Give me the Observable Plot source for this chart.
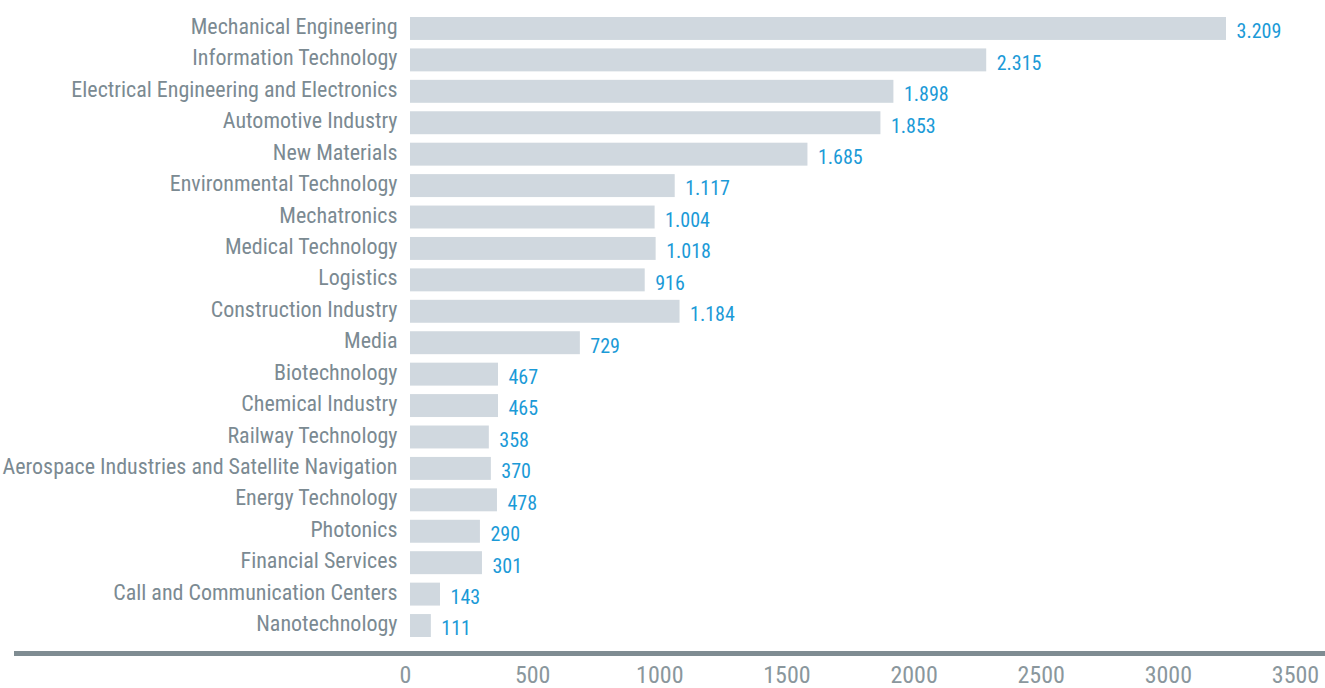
<!DOCTYPE html>
<html>
<head>
<meta charset="utf-8">
<script src="https://cdn.jsdelivr.net/npm/d3@7"></script>
<script src="https://cdn.jsdelivr.net/npm/@observablehq/plot@0.6"></script>
<style>
  html, body { margin: 0; padding: 0; background: #fff; }
  #chart { position: relative; width: 1325px; height: 688px; }
</style>
</head>
<body>
<div id="chart"></div>
<script>
// Categories, top to bottom
const categories = [
  "Mechanical Engineering",
  "Information Technology",
  "Electrical Engineering and Electronics",
  "Automotive Industry",
  "New Materials",
  "Environmental Technology",
  "Mechatronics",
  "Medical Technology",
  "Logistics",
  "Construction Industry",
  "Media",
  "Biotechnology",
  "Chemical Industry",
  "Railway Technology",
  "Aerospace Industries and Satellite Navigation",
  "Energy Technology",
  "Photonics",
  "Financial Services",
  "Call and Communication Centers",
  "Nanotechnology"
];
// Bar lengths as drawn in the picture (read against the axis)
const barValues = [3209, 2266, 1901, 1850, 1563, 1041, 962, 966, 923, 1060, 668, 346, 346, 310, 318, 342, 275, 283, 118, 82];
// Value labels printed next to the bars
const valueLabels = ["3.209", "2.315", "1.898", "1.853", "1.685", "1.117", "1.004", "1.018", "916", "1.184", "729", "467", "465", "358", "370", "478", "290", "301", "143", "111"];
// Axis ticks
const xTicks = [0, 500, 1000, 1500, 2000, 2500, 3000, 3500];

const data = categories.map((c, i) => ({category: c, value: barValues[i], label: valueLabels[i]}));

const font = "'Roboto Condensed', 'Liberation Sans Narrow', 'DejaVu Sans Condensed', Roboto, sans-serif";

const baseline = (index, scales, values, dims) => {
  const ns = "http://www.w3.org/2000/svg";
  const g = document.createElementNS(ns, "g");
  const line = document.createElementNS(ns, "line");
  const y = dims.height - dims.marginBottom + 16.5;
  line.setAttribute("x1", 14);
  line.setAttribute("x2", dims.width);
  line.setAttribute("y1", y);
  line.setAttribute("y2", y);
  line.setAttribute("stroke", "#7f8c92");
  line.setAttribute("stroke-width", 5);
  g.appendChild(line);
  return g;
};

const chart = Plot.plot({
  width: 1325,
  height: 688,
  marginLeft: 410,
  marginRight: 25,
  marginTop: 17,
  marginBottom: 51,
  style: {fontFamily: font, fontSize: "20px", background: "#fff"},
  x: {domain: [0, 3500], axis: null},
  y: {domain: categories, paddingInner: 0.27, paddingOuter: 0, round: false, axis: null},
  marks: [
    Plot.barX(data, {y: "category", x: "value", fill: "#d0d8df"}),
    Plot.text(data, {y: "category", x: "value", text: "label", textAnchor: "start", dx: 10, dy: 3, fill: "#1b9ad7", fontSize: 20}),
    Plot.axisY({domain: categories, tickSize: 0, tickPadding: 13, dy: -2, fill: "#7b8a92", fontSize: 22, label: null}),
    Plot.axisX({ticks: xTicks, tickSize: 0, tickPadding: 28, dx: -5, tickFormat: d3.format("d"), fill: "#8a979d", fontSize: 24, label: null}),
    baseline
  ]
});
document.getElementById("chart").appendChild(chart);
</script>
</body>
</html>
